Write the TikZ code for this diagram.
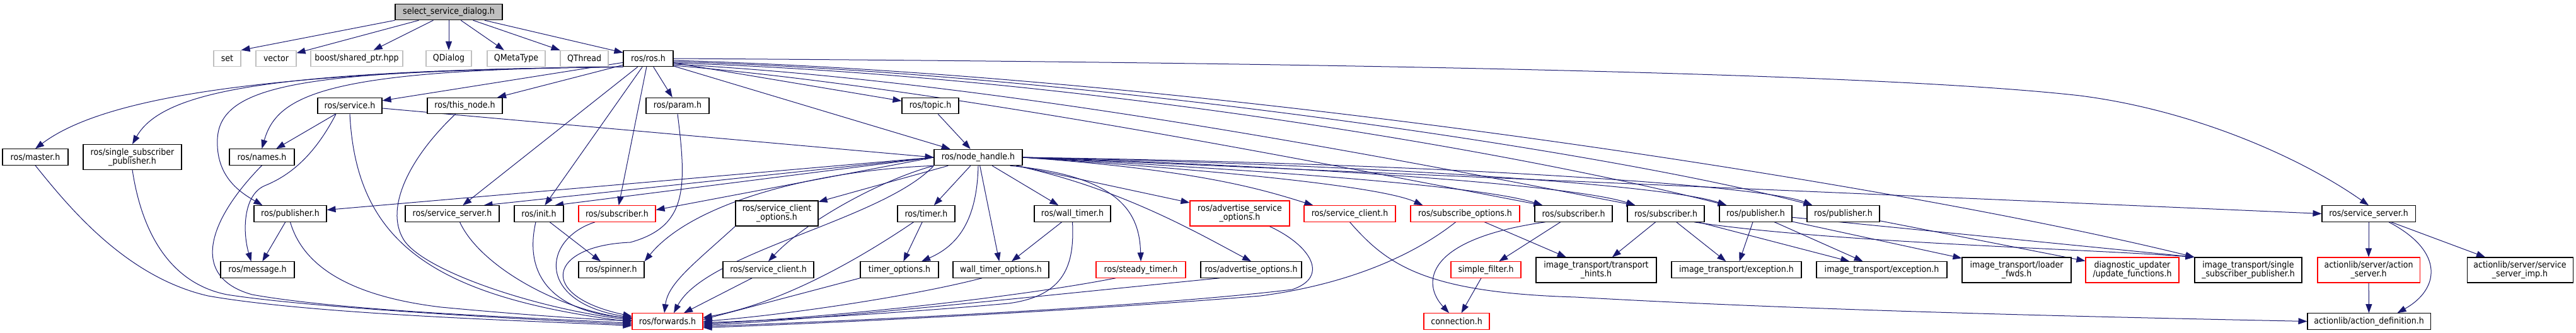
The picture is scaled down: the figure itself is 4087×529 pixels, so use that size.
\documentclass[tikz,border=0pt]{standalone}
\usepackage{fontspec}
\setmainfont{DejaVu Sans}[FakeStretch=0.9]
\usetikzlibrary{arrows.meta}
\definecolor{edgec}{HTML}{191970}
\definecolor{greyb}{HTML}{BFBFBF}
\pgfdeclarelayer{bg}
\pgfsetlayers{bg,main}
\tikzset{
 box/.style={draw=black, line width=1.1pt, fill=white, minimum height=25.5pt, inner sep=0pt, align=center, font=\fontsize{14pt}{14pt}\selectfont},
 nb/.style={box},
 rb/.style={box, draw=red},
 gb/.style={box, draw=greyb},
 rootb/.style={box, fill=greyb},
 tall/.style={minimum height=40pt},
 dep/.style={draw=edgec, line width=1pt, -{Triangle[length=14pt,width=10pt]}},
}
\begin{document}
\begin{tikzpicture}[x=1pt,y=-1pt]
\useasboundingbox (0,0) rectangle (4087,529);
% row 0/1
\node[rootb, minimum width=170pt] (root) at (712,19) {select\_service\_dialog.h};
\node[gb, minimum width=43pt] (set) at (360.5,93) {set};
\node[gb, minimum width=64pt] (vector) at (438,93) {vector};
\node[gb, minimum width=146pt] (boost) at (566,93) {boost/shared\_ptr.hpp};
\node[gb, minimum width=72pt] (qdialog) at (712,93) {QDialog};
\node[gb, minimum width=92pt] (qmeta) at (819,93) {QMetaType};
\node[gb, minimum width=76pt] (qthread) at (927,93) {QThread};
\node[nb, minimum width=79pt] (ros) at (1028.5,93) {ros/ros.h};
% row 2
\node[nb, minimum width=102pt] (svc) at (555,168) {ros/service.h};
\node[nb, minimum width=119pt] (tn) at (737.5,168) {ros/this\_node.h};
\node[nb, minimum width=100pt] (param) at (1075,168) {ros/param.h};
\node[nb, minimum width=90pt] (topic) at (1476,168) {ros/topic.h};
% row 3
\node[nb, minimum width=104pt] (master) at (56,249.5) {ros/master.h};
\node[nb, tall, minimum width=156pt] (ssp) at (210,249.5) {ros/single\_subscriber\\\_publisher.h};
\node[nb, minimum width=103pt] (names) at (415.5,249.5) {ros/names.h};
\node[nb, minimum width=140pt] (nh) at (1552,250) {ros/node\_handle.h};
% row 4
\node[nb, minimum width=115pt] (pubL) at (460.5,339.5) {ros/publisher.h};
\node[nb, minimum width=149pt] (ssL) at (717.5,339.5) {ros/service\_server.h};
\node[nb, minimum width=78pt] (init) at (855,339.5) {ros/init.h};
\node[rb, minimum width=122pt] (subR) at (979,339.5) {ros/subscriber.h};
\node[nb, tall, minimum width=131pt] (sco) at (1232.5,339) {ros/service\_client\\\_options.h};
\node[nb, minimum width=91pt] (timer) at (1469.5,339.5) {ros/timer.h};
\node[nb, minimum width=121pt] (wt) at (1701.5,339.5) {ros/wall\_timer.h};
\node[rb, tall, minimum width=158pt] (aso) at (1967,339) {ros/advertise\_service\\\_options.h};
\node[rb, minimum width=145pt] (scR) at (2141.5,339.5) {ros/service\_client.h};
\node[rb, minimum width=173pt] (subopt) at (2324.5,339.5) {ros/subscribe\_options.h};
\node[nb, minimum width=123pt] (sub1) at (2496.5,339.5) {ros/subscriber.h};
\node[nb, minimum width=122pt] (sub2) at (2643,339.5) {ros/subscriber.h};
\node[nb, minimum width=115pt] (pub1) at (2785.5,339.5) {ros/publisher.h};
\node[nb, minimum width=115pt] (pub2) at (2924.5,339.5) {ros/publisher.h};
\node[nb, minimum width=148pt] (ssR) at (3758,339.5) {ros/service\_server.h};
% row 5
\node[nb, minimum width=117pt] (msg) at (408.5,428.5) {ros/message.h};
\node[nb, minimum width=104pt] (spin) at (970,428.5) {ros/spinner.h};
\node[nb, minimum width=144pt] (scB) at (1219,428.5) {ros/service\_client.h};
\node[nb, minimum width=124pt] (tmo) at (1427,428.5) {timer\_options.h};
\node[nb, minimum width=152pt] (wto) at (1588,428.5) {wall\_timer\_options.h};
\node[rb, minimum width=142pt] (st) at (1810,428.5) {ros/steady\_timer.h};
\node[nb, minimum width=160pt] (ao) at (1985,428.5) {ros/advertise\_options.h};
\node[rb, minimum width=111pt] (sf) at (2357.5,428.5) {simple\_filter.h};
\node[nb, tall, minimum width=191pt] (hints) at (2532.5,429) {image\_transport/transport\\\_hints.h};
\node[nb, minimum width=206pt] (exc1) at (2755,428.5) {image\_transport/exception.h};
\node[nb, minimum width=207pt] (exc2) at (2985.5,428.5) {image\_transport/exception.h};
\node[nb, tall, minimum width=173pt] (loader) at (3199.5,429) {image\_transport/loader\\\_fwds.h};
\node[rb, tall, minimum width=148pt] (diag) at (3383,429) {diagnostic\_updater\\/update\_functions.h};
\node[nb, tall, minimum width=170pt] (itssp) at (3567,429) {image\_transport/single\\\_subscriber\_publisher.h};
\node[rb, tall, minimum width=162pt] (as) at (3758,429) {actionlib/server/action\\\_server.h};
\node[nb, tall, minimum width=168pt] (ssimp) at (3998,429) {actionlib/server/service\\\_server\_imp.h};
% row 6
\node[rb, minimum width=112pt] (fw) at (1059,510.5) {ros/forwards.h};
\node[rb, minimum width=104pt] (conn) at (2311,510.5) {connection.h};
\node[nb, minimum width=195pt] (ad) at (3758.5,510.5) {actionlib/action\_definition.h};

\begin{pgfonlayer}{bg}
% root
\draw[dep] (root.south west) -- (set.north east);
\draw[dep] ([xshift=38pt]root.south west) -- (vector);
\draw[dep] ([xshift=61pt]root.south west) -- (boost);
\draw[dep] (root) -- (qdialog);
\draw[dep] (root) -- (qmeta);
\draw[dep] (root) -- (qthread);
\draw[dep] (root) -- (ros);
% ros.h
\draw[dep] (ros.south west) .. controls (450,112) and (170,150) .. (master.north);
\draw[dep] (ros.south west) .. controls (450,112) and (260,140) .. (ssp.north);
\draw[dep] (ros.south west) .. controls (520,110) and (440,150) .. (names.north);
\draw[dep] (ros.south west) .. controls (500,112) and (350,130) .. (345,220) .. controls (342,280) and (380,305) .. ([xshift=14pt]pubL.north west);
\draw[dep] (ros) -- (svc);
\draw[dep] (ros) -- (tn);
\draw[dep] (ros) -- (param);
\draw[dep] (ros) -- (topic);
\draw[dep] (ros) -- (nh);
\draw[dep] (ros) -- (ssL);
\draw[dep] (ros) -- (init);
\draw[dep] (ros) -- (subR);
\draw[dep] (ros.east) .. controls (2200,100) and (3000,118) .. (3300,152) .. controls (3480,175) and (3650,250) .. (ssR.north);
\draw[dep] ([yshift=-3pt]ros.east) .. controls (1900,120) and (3000,290) .. (itssp.north west);
\draw[dep] ([yshift=-5pt]ros.east) .. controls (1700,115) and (2550,240) .. ([xshift=9pt]pub2.north west);
\draw[dep] ([yshift=-7pt]ros.east) .. controls (1700,120) and (2400,240) .. ([xshift=12pt]pub1.north west);
\draw[dep] ([yshift=-9pt]ros.east) .. controls (1600,130) and (2250,260) .. ([xshift=13pt]sub2.north west);
\draw[dep] ([yshift=-11pt]ros.east) .. controls (1500,140) and (2100,260) .. ([xshift=13pt]sub1.north west);
% service.h
\draw[dep] (svc) -- (names);
\draw[dep] ([yshift=-4pt]svc.east) -- (nh.west);
\draw[dep] ([xshift=-22pt]svc.south) .. controls (505,235) and (470,275) .. (420,295) .. controls (385,310) and (385,370) .. ([xshift=-10pt]msg.north);
\draw[dep] (svc.south) .. controls (565,380) and (680,470) .. ([yshift=-1pt]fw.west);
% left column to forwards
\draw[dep] ([xshift=-15pt]tn.south) .. controls (650,250) and (610,330) .. (640,380) .. controls (670,430) and (850,490) .. ([yshift=2pt]fw.west);
\draw[dep] (names.south) .. controls (330,350) and (300,440) .. (400,468) .. controls (550,495) and (850,505) .. ([yshift=-3pt]fw.west);
\draw[dep] (master.south) .. controls (110,330) and (200,440) .. (330,470) .. controls (500,500) and (850,510) .. ([yshift=-7pt]fw.west);
\draw[dep] (ssp.south) .. controls (225,370) and (270,450) .. (360,468) .. controls (500,490) and (850,508) .. ([yshift=-5pt]fw.west);
\draw[dep] (pubL) -- (msg);
\draw[dep] (pubL.south) .. controls (480,420) and (550,470) .. (700,488) .. controls (850,502) and (950,508) .. ([yshift=1pt]fw.west);
\draw[dep] ([xshift=12pt]ssL.south) .. controls (760,420) and (880,490) .. ([yshift=4pt]fw.west);
\draw[dep] ([xshift=-5pt]init.south) .. controls (830,440) and (880,495) .. ([yshift=5pt]fw.west);
\draw[dep] (init) -- (spin);
\draw[dep] ([xshift=-35pt]subR.south) .. controls (860,380) and (850,480) .. ([yshift=6pt]fw.west);
\draw[dep] (param.south) .. controls (1090,300) and (1090,360) .. (1000,385) .. controls (870,390) and (850,470) .. ([yshift=8pt]fw.west);
% node_handle.h
\draw[dep] (nh.west) -- ([yshift=6pt]pubL.east);
\draw[dep] (nh.west) -- ([xshift=50pt]ssL.north);
\draw[dep] (nh.west) -- ([xshift=25pt]init.north);
\draw[dep] (nh.west) -- ([yshift=6pt]subR.east);
\draw[dep] (nh.south west) .. controls (1300,270) and (1100,320) .. (spin.north east);
\draw[dep] (nh) -- (sco);
\draw[dep] (nh.south west) .. controls (1400,285) and (1280,350) .. (scB.north);
\draw[dep] (nh.south west) .. controls (1400,350) and (1120,400) .. ([xshift=10pt]fw.north);
\draw[dep] (nh) -- (timer);
\draw[dep] (nh.south) .. controls (1550,350) and (1520,390) .. ([xshift=35pt]tmo.north);
\draw[dep] (nh) -- (wto);
\draw[dep] (nh) -- (wt);
\draw[dep] ([xshift=-20pt]nh.south east) .. controls (1780,280) and (1808,340) .. (st.north);
\draw[dep] (nh) -- (aso);
\draw[dep] ([xshift=-10pt]nh.south east) .. controls (1780,300) and (1900,370) .. (ao.north);
\draw[dep] (nh.east) .. controls (1900,270) and (2000,300) .. ([xshift=15pt]scR.north west);
\draw[dep] (nh.east) .. controls (2000,275) and (2200,300) .. ([xshift=20pt]subopt.north west);
\draw[dep] (nh.east) .. controls (2000,270) and (2350,295) .. ([xshift=13pt]sub1.north west);
\draw[dep] (nh.east) .. controls (2100,265) and (2500,295) .. ([xshift=13pt]sub2.north west);
\draw[dep] (nh.east) .. controls (2200,262) and (2650,295) .. ([xshift=12pt]pub1.north west);
\draw[dep] (nh.east) .. controls (2300,260) and (2800,295) .. ([xshift=9pt]pub2.north west);
\draw[dep] (nh.east) -- (ssR.west);
\draw[dep] (topic) -- (nh);
% middle to forwards
\draw[dep] (sco.south west) .. controls (1100,420) and (1060,450) .. ([xshift=-5pt]fw.north);
\draw[dep] (scB) -- (fw);
\draw[dep] (timer) -- (tmo);
\draw[dep] ([xshift=-20pt]timer.south) .. controls (1380,400) and (1250,480) .. ([yshift=6pt]fw.east);
\draw[dep] (tmo.south west) -- ([yshift=3pt]fw.east);
\draw[dep] ([xshift=-30pt]wto.south) .. controls (1450,470) and (1250,500) .. (fw.east);
\draw[dep] (wt) -- (wto);
\draw[dep] (wt.south) .. controls (1705,420) and (1690,470) .. (1600,482) .. controls (1400,500) and (1200,510) .. ([yshift=-2pt]fw.east);
\draw[dep] ([xshift=-40pt]st.south) .. controls (1600,475) and (1300,505) .. ([yshift=-4pt]fw.east);
\draw[dep] ([xshift=-50pt]ao.south) .. controls (1700,465) and (1300,508) .. ([yshift=-6pt]fw.east);
\draw[dep] ([xshift=47pt]aso.south) .. controls (2080,390) and (2110,440) .. (2050,460) .. controls (1800,490) and (1300,512) .. ([yshift=-8pt]fw.east);
\draw[dep] ([xshift=-15pt]subopt.south) .. controls (2250,400) and (2150,450) .. (2000,470) .. controls (1700,495) and (1300,514) .. ([yshift=-10pt]fw.east);
% right part
\draw[dep] (scR.south) .. controls (2200,420) and (2260,465) .. (2500,472) .. controls (2900,495) and (3400,505) .. (ad.west);
\draw[dep] (subopt) -- (hints);
\draw[dep] ([xshift=-45pt]sub1.south) .. controls (2260,380) and (2255,450) .. ([xshift=-12pt]conn.north);
\draw[dep] (sub1) -- (sf);
\draw[dep] (sf) -- (conn);
\draw[dep] (sub2) -- (hints);
\draw[dep] (sub2) -- (exc1);
\draw[dep] (sub2) -- (exc2);
\draw[dep] ([xshift=45pt]sub2.south) .. controls (2900,385) and (3300,395) .. (itssp.north west);
\draw[dep] (pub1) -- (exc1);
\draw[dep] (pub1) -- (exc2);
\draw[dep] (pub1) -- (loader);
\draw[dep] (pub1) -- (itssp.north west);
\draw[dep] (pub2) -- (diag);
\draw[dep] (ssR) -- (as);
\draw[dep] (ssR) -- (ssimp);
\draw[dep] ([xshift=32pt]ssR.south) .. controls (3880,400) and (3870,460) .. ([xshift=45pt]ad.north);
\draw[dep] (as) -- (ad);
\end{pgfonlayer}
\end{tikzpicture}
\end{document}
